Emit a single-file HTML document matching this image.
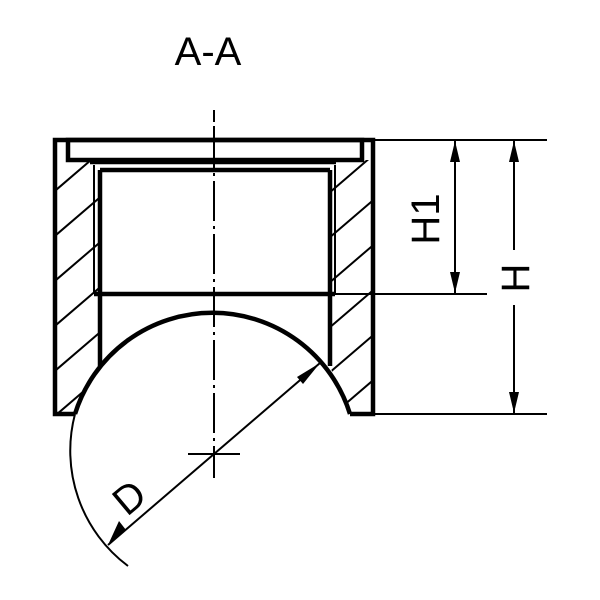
<!DOCTYPE html>
<html><head><style>body{margin:0;background:#fff}svg{display:block}</style></head><body>
<svg width="600" height="600" viewBox="0 0 600 600" xmlns="http://www.w3.org/2000/svg">
<defs>
<clipPath id="cl"><polygon points="56,160 100,160 100,366 89,382 81,398 75,414 56,414"/></clipPath>
<clipPath id="cr"><polygon points="330,160 372,160 372,414 350,414 344,398 336,382 330,366"/></clipPath>
</defs>
<text x="208" y="65" font-family="Liberation Sans, sans-serif" font-size="40" text-anchor="middle">A-A</text>
<g stroke="#000" stroke-width="2" fill="none">
<g clip-path="url(#cl)">
<line x1="0" y1="238" x2="140" y2="118"/><line x1="0" y1="283" x2="140" y2="163"/><line x1="0" y1="328" x2="140" y2="208"/><line x1="0" y1="373" x2="140" y2="253"/><line x1="0" y1="418" x2="140" y2="298"/><line x1="0" y1="463" x2="140" y2="343"/><line x1="0" y1="508" x2="140" y2="388"/>
</g>
<g clip-path="url(#cr)">
<line x1="280" y1="235" x2="420" y2="115"/><line x1="280" y1="280" x2="420" y2="160"/><line x1="280" y1="325" x2="420" y2="205"/><line x1="280" y1="370" x2="420" y2="250"/><line x1="280" y1="415" x2="420" y2="295"/><line x1="280" y1="460" x2="420" y2="340"/><line x1="280" y1="505" x2="420" y2="385"/>
</g>
</g>
<g stroke="#000" stroke-width="4.5" fill="none">
<polyline points="75,414 55,414 55,140 373,140 373,414 350,414"/>
<rect x="68" y="140" width="294" height="20"/>
<line x1="90" y1="162" x2="336" y2="162"/>
<line x1="100" y1="170" x2="330" y2="170"/>
<line x1="94" y1="294" x2="335" y2="294"/>
<line x1="100" y1="170" x2="100" y2="366"/>
<line x1="330" y1="170" x2="330" y2="366"/>
<path d="M75,414 A144,144 0 0 1 350,414"/>
</g>
<g stroke="#000" stroke-width="2" fill="none">
<line x1="94" y1="165" x2="94" y2="294"/><line x1="335" y1="165" x2="335" y2="294"/>
<path d="M75,414 A144,144 0 0 0 128,566"/>
<line x1="214" y1="110" x2="214" y2="128" stroke-dasharray="12,4,2,4"/>
<line x1="214" y1="128" x2="214" y2="478" stroke-dasharray="40,5,3,5"/>
<line x1="188" y1="454" x2="240" y2="454"/>
<line x1="108" y1="545" x2="320" y2="363"/>
<line x1="373" y1="140" x2="547" y2="140"/><line x1="335" y1="294" x2="487" y2="294"/><line x1="373" y1="414" x2="547" y2="414"/>
<line x1="455" y1="140" x2="455" y2="294"/>
<line x1="514" y1="140" x2="514" y2="250"/><line x1="514" y1="305" x2="514" y2="414"/>
</g>
<g fill="#000">
<polygon points="320,363 303,384 297,377"/>
<polygon points="108,545 119,521 126,530"/>
<polygon points="455,141 450,162 460,162"/><polygon points="455,293 450,272 460,272"/>
<polygon points="514,141 509,162 519,162"/><polygon points="514,413 509,392 519,392"/>
</g>
<g font-family="Liberation Sans, sans-serif" font-size="40">
<text transform="translate(439,219) rotate(-90)" text-anchor="middle">H1</text>
<text transform="translate(529,278) rotate(-90)" text-anchor="middle">H</text>
<text transform="translate(138,508) rotate(-40)" text-anchor="middle">D</text>
</g>
</svg>
</body></html>
